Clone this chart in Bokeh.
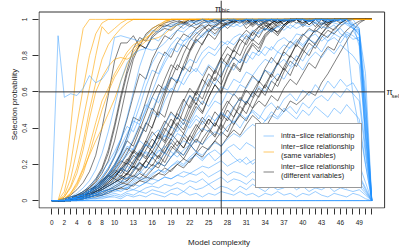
from bokeh.plotting import figure
from bokeh.models import Range1d, FixedTicker, Span, Legend, LegendItem
from bokeh.embed import file_html
from bokeh.resources import INLINE

FONT = "Liberation Sans"

# ---------------- data (selection probability, percent) ----------------
x_ticks = list(range(52))
x_labeled = [0, 2, 4, 6, 8, 10, 13, 16, 19, 22, 25, 28, 31, 34, 37, 40, 43, 46, 49]
y_ticks = [0, 0.2, 0.4, 0.6, 0.8, 1.0]
y_tick_labels = ["0", "0.2", "0.4", "0.6", "0.8", "1"]
pi_bic = 27
pi_sel = 0.6

# inter-slice relationship (same variables)
or_1 = [0,0,12,40,75,95,100,100,100,100,
        100,100,100,100,100,100,100,100,100,100,
        100,100,100,100,100,100,100,100,100,100,
        100,100,100,100,100,100,100,100,100,100,
        100,100,100,100,100,100,100,100,100,100,
        100,100]
or_2 = [0,0,5,20,42,62,80,92,98,100,
        100,100,100,100,100,100,100,100,100,100,
        100,100,100,100,100,100,100,100,100,100,
        100,100,100,100,100,100,100,100,100,100,
        100,100,100,100,100,100,100,100,100,100,
        100,100]
or_3 = [0,0,3,12,28,45,62,80,96,92,
        95,98,100,100,100,100,100,100,100,100,
        100,100,100,100,100,100,100,100,100,100,
        100,100,100,100,100,100,100,100,100,100,
        100,100,100,100,100,100,100,100,100,100,
        100,100]
or_4 = [0,0,2,8,18,32,50,65,78,86,
        91,95,98,100,100,100,100,100,100,100,
        100,100,100,100,100,100,100,100,100,100,
        100,100,100,100,100,100,100,100,100,100,
        100,100,100,100,100,100,100,100,100,100,
        100,100]
or_5 = [0,0,2,7,15,28,45,60,68,74,
        78,79,78,80,85,88,89,90,92,95,
        97,99,100,100,100,100,100,100,100,100,
        100,100,100,100,100,100,100,100,100,100,
        100,100,100,100,100,100,100,100,100,100,
        100,100]
or_6 = [0,0,1,4,10,18,30,43,55,62,
        70,76,82,86,88,90,92,95,98,100,
        100,100,100,100,100,100,100,100,100,100,
        100,100,100,100,100,100,100,100,100,100,
        100,100,100,100,100,100,100,100,100,100,
        100,100]
or_7 = [0,0,1,4,9,17,25,33,40,48,
        56,66,75,82,87,89,93,96,99,100,
        100,100,100,100,100,100,100,100,100,100,
        100,100,100,100,100,100,100,100,100,100,
        100,100,100,100,100,100,100,100,100,100,
        100,100]
or_8 = [0,0,1,3,8,15,26,38,50,60,
        68,74,80,84,87,91,95,97,99,100,
        100,100,100,100,100,100,100,100,100,100,
        100,100,100,100,100,100,100,100,100,100,
        100,100,100,100,100,100,100,100,100,100,
        100,100]

# inter-slice relationship (different variables)
k_1 = [0,0,1,3,6,10,16,25,40,58,
       77,87,87,91,85,92,95,97,96,98,
       99,98,100,99,100,100,98,100,100,99,
       100,97,100,99,94,98,100,97,100,100,
       98,100,96,100,100,99,100,100,100,100,
       100,100]
k_2 = [0,0,0,1,3,5,8,12,18,28,
       42,58,72,84,90,88,93,96,98,99,
       100,98,96,99,100,100,99,100,100,100,
       100,99,100,100,97,93,97,100,99,100,
       100,97,100,100,98,100,100,100,100,100,
       100,100]
k_3 = [0,0,1,2,3,5,7,10,15,22,
       33,48,64,78,86,84,91,94,97,96,
       98,99,97,95,98,99,100,99,100,100,
       100,100,99,100,100,96,92,96,99,100,
       100,100,98,95,98,100,100,100,100,100,
       100,100]
k_4 = [0,0,0,1,2,3,5,7,10,14,
       19,26,35,46,44,55,66,75,82,79,
       87,92,90,95,97,93,97,99,100,100,
       99,100,100,100,98,100,100,100,100,100,
       100,100,100,100,100,100,100,100,100,100,
       100,100]
k_5 = [0,0,0,1,2,3,4,6,8,11,
       15,20,26,33,41,38,48,58,67,75,
       72,81,88,92,95,97,94,96,99,100,
       100,100,98,100,100,99,100,100,100,100,
       100,100,100,100,100,100,100,100,100,100,
       100,100]
k_6 = [0,0,1,2,3,4,6,8,11,14,
       18,23,29,26,34,42,51,47,58,67,
       75,72,82,88,91,95,92,96,98,99,
       98,100,100,97,99,100,100,100,98,100,
       100,100,100,100,100,100,100,100,100,100,
       100,100]
k_7 = [0,0,0,1,2,3,5,7,10,13,
       17,15,21,27,24,31,38,34,42,49,
       45,55,62,58,67,74,70,79,85,82,
       90,94,91,96,98,97,99,100,100,100,
       100,100,100,100,100,100,100,100,100,100,
       100,100]
k_8 = [0,0,0,1,2,3,5,8,11,14,
       12,18,23,20,27,33,29,37,44,40,
       49,56,51,60,67,63,72,79,75,84,
       89,86,93,96,94,98,100,99,100,100,
       100,100,100,100,100,100,100,100,100,100,
       100,100]
k_9 = [0,0,0,1,1,3,4,6,8,11,
       14,17,21,18,25,31,27,33,40,36,
       43,39,47,54,49,57,64,59,68,75,
       71,80,86,82,90,94,91,96,99,100,
       98,100,100,100,100,100,100,100,100,100,
       100,100]
k_10 = [0,0,0,1,2,3,5,7,9,12,
        15,18,16,22,27,24,30,36,32,40,
        46,42,50,57,53,61,68,64,73,79,
        76,84,89,86,92,95,93,97,99,100,
        100,100,100,100,100,100,100,100,100,100,
        100,100]
k_11 = [0,0,0,0,1,2,3,5,7,9,
        12,10,15,19,16,22,27,23,29,34,
        30,37,33,40,46,42,49,45,53,59,
        55,63,69,65,73,79,75,83,88,85,
        91,95,93,97,99,100,100,100,100,100,
        100,100]
k_12 = [0,0,0,1,1,2,4,5,7,9,
        11,14,12,17,21,18,24,20,27,32,
        28,35,31,38,44,40,36,43,50,46,
        54,61,57,65,72,68,76,82,79,87,
        92,89,95,98,97,100,100,100,100,100,
        100,100]
k_13 = [0,0,0,0,1,2,3,4,6,8,
        10,12,15,13,18,22,19,25,21,28,
        33,29,36,32,39,45,41,48,44,51,
        57,53,60,66,62,70,76,72,80,86,
        83,90,94,92,97,99,100,100,100,100,
        100,100]
k_14 = [0,0,0,0,1,1,2,3,5,6,
        8,10,9,12,15,13,17,21,19,24,
        28,25,31,27,34,39,35,42,38,46,
        52,48,56,62,58,66,63,71,77,74,
        81,87,84,90,94,92,96,99,100,100,
        100,100]
k_15 = [0,0,0,0,0,1,2,2,3,5,
        6,7,9,8,11,13,12,15,18,16,
        20,23,21,26,30,28,33,38,35,42,
        47,44,51,55,52,58,55,62,67,64,
        70,76,73,80,85,83,90,94,97,99,
        100,100]
k_16 = [0,0,0,0,1,1,2,3,3,4,
        6,7,6,9,11,10,13,15,14,17,
        20,18,22,26,24,29,33,30,35,39,
        36,42,47,44,40,46,52,49,55,53,
        56,60,58,65,70,76,82,88,94,98,
        100,100]
k_17 = [0,0,0,1,2,4,7,11,17,26,
        40,56,70,80,86,84,90,93,95,94,
        97,98,100,97,99,100,100,98,95,98,
        100,100,97,100,100,99,96,99,100,100,
        97,100,100,100,98,100,100,100,100,100,
        100,100]
k_18 = [0,0,0,1,2,4,6,8,11,15,
        20,26,33,30,39,48,57,64,61,71,
        79,86,83,90,94,97,96,99,100,98,
        100,98,100,96,99,100,100,97,100,100,
        100,99,100,100,96,100,100,100,100,100,
        100,100]
k_19 = [0,0,0,1,2,3,5,7,10,13,
        17,22,20,27,35,43,40,51,60,68,
        65,75,83,89,86,93,96,98,97,99,
        100,100,97,100,99,94,98,100,100,98,
        100,100,100,97,100,100,100,100,100,100,
        100,100]
k_20 = [0,0,0,1,2,3,4,6,9,12,
        16,13,19,25,22,28,34,30,38,45,
        41,50,58,53,62,70,66,75,81,78,
        86,91,88,94,97,95,99,100,100,100,
        100,100,100,100,100,100,100,100,100,100,
        100,100]
k_21 = [0,0,0,0,1,2,3,5,7,10,
        13,17,14,20,26,23,30,37,33,41,
        48,44,53,60,56,65,72,68,77,83,
        80,88,93,90,96,98,100,99,100,100,
        100,100,100,100,100,100,100,100,100,100,
        100,100]
k_22 = [0,0,0,0,1,2,3,4,6,8,
        10,13,11,16,21,18,24,30,26,34,
        41,37,45,52,48,57,64,60,69,76,
        72,81,87,84,91,95,93,97,100,100,
        100,100,100,100,100,100,100,100,100,100,
        100,100]
k_23 = [0,0,0,1,1,2,3,5,6,8,
        10,12,15,19,17,22,27,24,31,37,
        33,29,36,42,38,45,41,49,55,51,
        47,54,60,57,64,70,66,74,80,77,
        84,89,86,92,96,94,98,100,100,100,
        100,100]
k_24 = [0,0,0,0,1,1,2,3,4,6,
        7,9,11,14,12,16,20,18,24,30,
        27,23,29,34,31,37,43,39,46,42,
        48,55,51,58,64,60,67,73,69,77,
        83,80,87,92,90,95,98,100,100,100,
        100,100]
k_25 = [0,0,0,1,2,3,5,8,12,17,
        24,33,45,58,70,67,78,85,91,89,
        94,97,99,100,100,98,100,100,97,100,
        100,95,98,100,100,100,98,100,100,100,
        96,99,100,100,100,100,98,100,100,100,
        100,100]
k_26 = [0,0,0,0,1,2,3,5,7,10,
        13,17,22,28,25,33,41,49,46,57,
        66,74,71,80,87,92,89,95,98,99,
        100,99,96,99,100,100,98,100,100,100,
        100,97,100,100,100,100,100,100,100,100,
        100,100]

# intra-slice relationship
b_0 = [0,91,57,59,58,62,69,65,67,72,
       90,91,90,89,88,91,94,93,96,97,
       98,97,99,98,100,99,100,99,100,100,
       99,100,100,99,100,100,100,99,100,100,
       100,99,100,100,100,99,100,97,95,92,
       55,0]
b_1 = [0,0,0,1,2,4,6,9,13,18,
       25,34,46,60,74,84,90,88,93,96,
       97,95,98,99,100,99,100,100,100,99,
       100,100,99,100,100,100,100,100,99,100,
       100,99,100,100,100,99,100,100,100,95,
       60,0]
b_2 = [0,0,0,1,2,3,5,8,11,15,
       20,27,35,46,57,68,76,82,80,86,
       90,88,92,94,96,98,97,99,98,100,
       99,100,100,99,100,100,99,100,100,100,
       99,100,100,100,99,100,100,98,97,94,
       40,0]
b_3 = [0,0,0,1,2,3,5,7,10,14,
       19,25,33,42,52,63,72,70,78,84,
       82,88,90,87,92,94,91,95,97,96,
       98,100,99,100,99,100,100,99,100,100,
       100,99,100,100,100,100,99,100,96,91,
       50,0]
b_4 = [0,0,1,2,4,7,11,17,26,38,
       52,66,76,81,83,84,83,84,87,91,
       94,93,96,97,98,99,98,100,100,100,
       99,100,100,100,100,99,100,100,100,100,
       100,100,99,100,100,100,100,100,98,85,
       30,0]
b_5 = [0,0,0,1,2,3,4,6,9,12,
       16,21,27,34,42,51,60,69,76,82,
       87,85,90,93,90,94,96,95,97,98,
       96,98,99,97,99,100,99,100,99,100,
       100,99,100,98,100,99,100,100,95,93,
       70,0]
b_6 = [0,0,0,1,2,3,5,8,11,15,
       19,24,30,28,35,42,49,46,55,62,
       60,68,74,71,78,82,80,85,88,86,
       90,92,89,93,95,94,96,97,95,98,
       97,99,98,100,99,100,99,100,97,95,
       45,0]
b_7 = [0,0,0,1,1,2,4,6,8,11,
       14,18,16,21,26,31,29,36,42,48,
       45,52,58,55,61,67,64,70,75,72,
       78,76,82,80,85,83,88,90,87,92,
       91,94,93,96,95,97,92,90,94,88,
       35,0]
b_8 = [0,0,0,0,1,2,3,4,6,8,
       10,13,12,16,20,18,23,28,26,32,
       37,35,42,47,44,50,55,53,60,58,
       64,62,68,66,72,70,75,78,74,80,
       77,83,86,82,88,90,87,92,89,90,
       55,0]
b_9 = [0,0,0,1,1,2,3,5,7,9,
       12,15,19,17,22,27,25,31,36,34,
       40,45,43,50,55,52,58,63,61,67,
       65,71,69,74,78,76,82,80,85,89,
       86,90,92,88,91,93,95,91,58,40,
       20,0]
b_10 = [0,0,0,0,1,1,2,3,5,6,
        8,10,13,12,15,19,17,22,26,24,
        29,33,31,36,40,38,44,48,46,52,
        56,54,59,63,60,66,70,67,73,76,
        72,78,82,79,84,81,86,83,80,75,
        38,0]
b_11 = [0,0,0,1,1,2,3,4,5,7,
        9,11,10,13,16,14,18,21,19,24,
        27,25,30,33,31,35,38,36,41,44,
        40,46,49,45,51,54,50,56,59,55,
        61,58,64,60,66,62,67,63,65,59,
        28,0]
b_12 = [0,0,0,0,1,1,2,3,3,5,
        6,8,7,10,12,11,14,17,15,19,
        22,20,24,27,25,29,32,30,34,37,
        35,39,42,40,44,47,45,49,52,48,
        54,51,56,58,55,60,57,62,59,55,
        25,0]
b_13 = [0,0,0,1,1,2,3,4,5,6,
        7,9,8,11,13,12,15,17,16,19,
        21,19,23,25,22,26,28,25,29,31,
        28,32,30,27,31,33,29,34,31,28,
        32,30,27,31,29,26,30,27,24,20,
        10,0]
b_14 = [0,0,0,0,1,1,2,3,3,4,
        5,6,7,6,8,10,9,11,13,12,
        14,16,15,17,19,18,20,22,19,21,
        23,20,22,24,21,23,20,22,25,22,
        19,21,23,20,22,19,21,18,16,14,
        7,0]
b_15 = [0,0,0,1,1,2,2,3,4,5,
        6,5,7,9,8,10,12,11,13,12,
        14,13,15,14,16,13,15,17,14,16,
        15,13,16,14,17,15,13,16,14,12,
        15,13,16,14,12,15,13,11,13,10,
        5,0]
b_16 = [0,0,0,0,1,1,1,2,2,3,
        4,3,5,6,5,7,8,7,9,8,
        10,9,11,10,12,9,11,13,10,12,
        11,9,12,10,8,11,9,12,10,8,
        11,9,7,10,8,11,9,7,9,8,
        4,0]
b_17 = [0,0,0,0,0,1,1,1,2,2,
        3,2,4,3,5,4,6,5,4,6,
        7,5,8,6,7,9,6,8,7,5,
        8,6,9,7,5,8,6,7,9,6,
        8,5,7,6,8,5,7,6,5,6,
        3,0]
b_18 = [0,0,0,0,0,0,1,1,1,2,
        2,1,3,2,3,2,4,3,2,4,
        3,5,3,4,2,4,3,5,4,3,
        5,3,4,2,4,3,5,3,4,2,
        4,3,5,3,2,4,3,2,4,3,
        1,0]
b_19 = [0,0,0,1,2,3,5,7,9,12,
        14,17,20,24,28,26,23,27,30,27,
        24,28,31,27,23,26,22,25,28,24,
        21,24,20,23,26,22,19,22,25,21,
        18,22,19,16,20,17,14,18,15,13,
        6,0]
b_20 = [0,0,0,1,2,3,5,7,10,13,
        17,21,25,29,33,30,36,39,35,41,
        38,43,40,45,42,47,44,49,46,43,
        48,45,50,47,44,49,46,51,48,45,
        50,47,52,49,46,51,48,53,49,45,
        20,0]
b_21 = [0,0,1,2,3,5,8,12,16,21,
        27,34,41,38,46,53,50,58,63,60,
        67,64,70,73,69,75,72,77,74,79,
        76,81,78,83,80,85,82,86,84,88,
        85,89,87,91,88,92,90,93,91,88,
        45,0]
b_22 = [0,0,0,1,2,4,6,9,13,18,
        24,30,37,44,42,50,57,54,62,68,
        66,73,78,76,82,85,83,88,86,90,
        92,89,94,92,95,93,96,94,97,95,
        97,96,98,97,99,98,97,98,95,94,
        35,0]
b_23 = [0,0,0,0,0,0,0,0,0,0,
        0,0,0,0,0,0,0,0,0,0,
        0,0,0,0,0,0,0,0,0,0,
        0,0,0,0,0,0,0,0,0,0,
        0,0,0,0,0,0,0,0,0,0,
        0,0]
b_24 = list(b_23)
b_25 = list(b_23)

orange_series = [or_1, or_2, or_3, or_4, or_5, or_6, or_7, or_8]
black_series = [k_1, k_2, k_3, k_4, k_5, k_6, k_7, k_8, k_9, k_10, k_11, k_12, k_13,
                k_14, k_15, k_16, k_17, k_18, k_19, k_20, k_21, k_22, k_23, k_24, k_25, k_26]
blue_series = [b_0, b_1, b_2, b_3, b_4, b_5, b_6, b_7, b_8, b_9, b_10, b_11, b_12, b_13,
               b_14, b_15, b_16, b_17, b_18, b_19, b_20, b_21, b_22, b_23, b_24, b_25]

legend_labels = ["intra\u2212slice relationship",
                 "inter\u2212slice relationship\n(same variables)",
                 "inter\u2212slice relationship\n(different variables)"]


def to_xy(series):
    xs = [list(range(len(s))) for s in series]
    ys = [[v / 100 for v in s] for s in series]
    return xs, ys


# ---------------- layout constants ----------------
W, H = 399, 249
BORDER_L, BORDER_B = 38, 41
x_lo, x_hi = -2.04, 53.04          # R-style plot box (range +- 4 %)
y_lo, y_hi = -0.0408, 1.0408
PX_X = 345.6 / (x_hi - x_lo)       # pixels per unit inside the box
PX_Y = 196.0 / (y_hi - y_lo)
frame_w = W - BORDER_L
frame_h = H - BORDER_B
fx0 = x_lo - 0.5 / PX_X
fx1 = fx0 + frame_w / PX_X
fy0 = y_lo - 0.5 / PX_Y
fy1 = fy0 + frame_h / PX_Y

p = figure(width=W, height=H, output_backend="svg", toolbar_location=None,
           x_range=Range1d(fx0, fx1), y_range=Range1d(fy0, fy1),
           min_border_left=BORDER_L, min_border_right=0, min_border_top=0,
           min_border_bottom=BORDER_B)
p.grid.visible = False
p.outline_line_color = None
p.background_fill_color = "white"
p.border_fill_color = "white"

bx, by = to_xy(black_series)
r_black = p.multi_line(bx, by, line_color="#000000", line_alpha=0.5, line_width=1)
ox, oy = to_xy(orange_series)
r_orange = p.multi_line(ox, oy, line_color="#FFA500", line_alpha=0.6, line_width=1)
ux, uy = to_xy(blue_series)
r_blue = p.multi_line(ux, uy, line_color="#1E90FF", line_alpha=0.45, line_width=1)

# reference lines
p.add_layout(Span(location=pi_bic, dimension="height", line_color="#333333", line_width=1))
p.segment(x0=[x_lo], y0=[pi_sel], x1=[x_hi], y1=[pi_sel], line_color="#333333", line_width=1)

# box around the plot region
p.quad(left=[x_lo], right=[x_hi], bottom=[y_lo], top=[y_hi], fill_color=None,
       line_color="#333333", line_width=1)

# pi labels
p.text(x=[pi_bic], y=[y_hi], text=["\u03c0"], text_font={"value": FONT},
       text_font_size="9px", text_align="right", text_baseline="alphabetic",
       x_offset=0, y_offset=-3.5, text_color="#222222")
p.text(x=[pi_bic], y=[y_hi], text=["bic"], text_font={"value": FONT},
       text_font_size="6px", text_align="left", text_baseline="alphabetic",
       x_offset=0.5, y_offset=-2.5, text_color="#222222")
p.text(x=[x_hi], y=[pi_sel], text=["\u03c0"], text_font={"value": FONT},
       text_font_size="9px", text_align="left", text_baseline="middle",
       x_offset=2, y_offset=0, text_color="#222222")
p.text(x=[x_hi], y=[pi_sel], text=["sel"], text_font={"value": FONT},
       text_font_size="6px", text_align="left", text_baseline="alphabetic",
       x_offset=7, y_offset=4, text_color="#222222")

# axes
p.xaxis.ticker = FixedTicker(ticks=x_ticks)
p.xaxis.major_label_overrides = {t: (str(t) if t in x_labeled else "") for t in x_ticks}
p.yaxis.ticker = FixedTicker(ticks=y_ticks)
p.yaxis.major_label_overrides = {t: lab for t, lab in zip(y_ticks, y_tick_labels)}
p.yaxis.major_label_orientation = "vertical"
for ax in (p.xaxis, p.yaxis):
    ax.axis_line_color = None
    ax.minor_tick_line_color = None
    ax.major_tick_in = 0
    ax.major_tick_out = 6
    ax.major_tick_line_color = "#333333"
    ax.major_label_text_font = FONT
    ax.major_label_text_font_size = "6.5px"
    ax.major_label_text_color = "#222222"
    ax.axis_label_text_font = FONT
    ax.axis_label_text_font_size = "8px"
    ax.axis_label_text_font_style = "normal"
    ax.axis_label_text_color = "#222222"
p.xaxis.axis_label = "Model complexity"
p.yaxis.axis_label = "Selection probability"
p.xaxis.major_label_standoff = 5
p.xaxis.axis_label_standoff = 10
p.yaxis.major_label_standoff = 5
p.yaxis.axis_label_standoff = 1

# legend, placed like the reference (box from x=32.5 .. 49, y=0.066 .. 0.41)
leg_x = round((32.5 - fx0) * PX_X)
leg_y = round((0.066 - fy0) * PX_Y)
legend = Legend(items=[LegendItem(label=legend_labels[0], renderers=[r_blue]),
                       LegendItem(label=legend_labels[1], renderers=[r_orange]),
                       LegendItem(label=legend_labels[2], renderers=[r_black])],
                location=(leg_x, leg_y))
legend.label_text_font = FONT
legend.label_text_font_size = "7.4px"
legend.label_text_color = "#222222"
legend.label_standoff = 7
legend.glyph_width = 11
legend.glyph_height = 9
legend.label_height = 9
legend.padding = 7
legend.spacing = 2
legend.margin = 0
legend.border_line_color = "#333333"
legend.border_line_width = 1
legend.background_fill_color = "white"
legend.background_fill_alpha = 1.0
p.add_layout(legend)

open("out.html", "w").write(file_html(p, INLINE))
